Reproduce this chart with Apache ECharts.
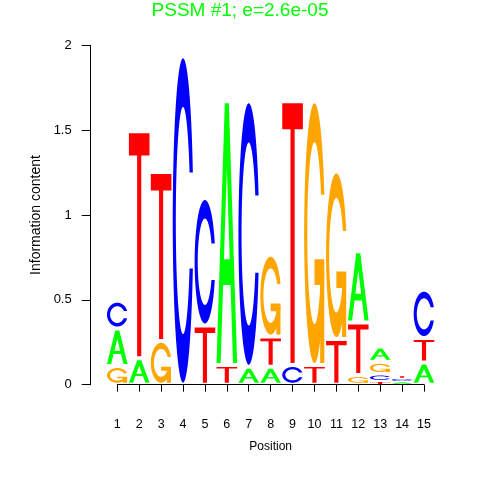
<!DOCTYPE html>
<html>
<head>
<meta charset="utf-8">
<script src="https://cdn.jsdelivr.net/npm/echarts@6/dist/echarts.min.js"></script>
<style>html,body{margin:0;padding:0;background:#fff;}#chart{width:480px;height:480px;}</style>
</head>
<body>
<div id="chart"></div>
<script>
// ---- data ----
const positions = [1,2,3,4,5,6,7,8,9,10,11,12,13,14,15];
const letters = ['A','C','G','T'];
const heightA = [0.221, 0.156, 0, 0, 0, 1.554, 0.106, 0.106, 0, 0, 0, 0.420, 0.090, 0.018, 0.131];
const heightC = [0.164, 0, 0, 1.935, 0.751, 0, 1.564, 0, 0.116, 0, 0, 0, 0.044, 0.020, 0.285];
const heightG = [0.110, 0, 0.258, 0, 0, 0, 0, 0.482, 0, 1.554, 0.988, 0.057, 0.072, 0, 0];
const heightT = [0, 1.338, 0.996, 0, 0.349, 0.116, 0, 0.178, 1.554, 0.116, 0.269, 0.309, 0.019, 0.015, 0.144];
// stacking order (bottom -> top) per position
const stackOrder = ['GAC','AT','GT','C','TC','TA','AC','ATG','CT','TG','TG','GTA','TCGA','ACT','ATC'];
const yTicks = [0, 0.5, 1, 1.5, 2];
const titleText = 'PSSM #1; e=2.6e-05';

const letterColors = {A:'#00FF00', C:'#0000FF', G:'#FFA500', T:'#FF0000'};
const heightsByLetter = {A:heightA, C:heightC, G:heightG, T:heightT};

// ---- letter glyph shapes in unit square (y up) ----
function linspace(a,b,n){const r=[];for(let i=0;i<n;i++)r.push(a+(b-a)*i/(n-1));return r;}
function buildC(){
  const a1 = linspace(0.3+Math.PI/2, Math.PI, 100);
  const a2 = linspace(Math.PI, 1.5*Math.PI, 100);
  const xl1=a1.map(a=>0.5+0.5*Math.sin(a)), yl1=a1.map(a=>0.5+0.5*Math.cos(a));
  const xl2=a2.map(a=>0.5+0.5*Math.sin(a)), yl2=a2.map(a=>0.5+0.5*Math.cos(a));
  const xl=xl1.concat(xl2), yl=yl1.concat(yl2);
  const x=xl.concat(xl.slice().reverse());
  const y=yl.concat(yl.slice().reverse().map(v=>1-v));
  const maxY=Math.max(...yl1);
  let xi1=a1.map(a=>0.5+0.35*Math.sin(a)), yi1=a1.map(a=>0.5+0.35*Math.cos(a));
  const keep=yi1.map(v=>v<=maxY);
  xi1=xi1.filter((v,i)=>keep[i]); yi1=yi1.filter((v,i)=>keep[i]);
  yi1[0]=maxY;
  const xi2=a2.map(a=>0.5+0.35*Math.sin(a)), yi2=a2.map(a=>0.5+0.35*Math.cos(a));
  const xi=xi1.concat(xi2), yi=yi1.concat(yi2);
  const x1=xi.concat(xi.slice().reverse());
  const y1=yi.concat(yi.slice().reverse().map(v=>1-v));
  const X=x.concat(x1.slice().reverse()), Y=y.concat(y1.slice().reverse());
  return {pts:X.map((v,i)=>[v,Y[i]]), r1:Math.max(...xl1)};
}
const cShape = buildC();
const shapes = {
  A: [{pts:[[0,0],[0.4,1],[0.6,1],[1,0],[0.8,0],[0.68,0.3],[0.32,0.3],[0.2,0]], hole:false},
      {pts:[[0.36,0.4],[0.5,0.75],[0.64,0.4]], hole:true}],
  C: [{pts:cShape.pts, hole:false}],
  G: [{pts:cShape.pts, hole:false},
      {pts:(function(){const r1=cShape.r1,h1=0.4;return [[r1,h1],[0.5,h1],[0.5,h1-0.1],[r1-0.2,h1-0.1],[r1-0.2,0],[r1,0]];})(), hole:false}],
  T: [{pts:[[0,1],[1,1],[1,0.9],[0.6,0.9],[0.6,0],[0.4,0],[0.4,0.9],[0,0.9]], hole:false}]
};

// ---- build stacked items ----
const items = [];
positions.forEach((p, i) => {
  let base = 0;
  for (const L of stackOrder[i]) {
    const h = heightsByLetter[L][i];
    if (h > 0) items.push([p, base, h, letters.indexOf(L)]);
    base += h;
  }
});

const letterWidth = 0.94;
function renderItem(params, api) {
  const pos = api.value(0), base = api.value(1), h = api.value(2), L = letters[api.value(3)];
  const p0 = api.coord([pos - letterWidth/2, base]);
  const p1 = api.coord([pos + letterWidth/2, base + h]);
  const x0 = p0[0], x1 = p1[0];
  let yb = p0[1], yt = p1[1];
  const inset = Math.min(2, (yb - yt) * 0.2);
  yb -= inset; yt += inset;
  const children = shapes[L].map(s => ({
    type: 'polygon',
    shape: {points: s.pts.map(q => [x0 + q[0]*(x1-x0), yb - q[1]*(yb-yt)])},
    style: {fill: s.hole ? '#ffffff' : letterColors[L], stroke: null}
  }));
  return {type: 'group', children};
}

const font = 'Liberation Sans, Arial, Helvetica, sans-serif';
const chart = echarts.init(document.getElementById('chart'), null, {renderer:'canvas'});
chart.setOption({
  animation: false,
  backgroundColor: '#ffffff',
  title: {
    text: titleText, left: 'center', top: 1, padding: 0,
    textStyle: {color: '#00FF00', fontSize: 19, fontWeight: 'normal', fontFamily: font}
  },
  grid: {left: 117.3, right: 56, top: 45.3, bottom: 95.3, containLabel: false},
  xAxis: {
    type: 'value', min: 1, max: 15, interval: 1, offset: 18,
    name: 'Position', nameLocation: 'middle', nameGap: 38,
    nameTextStyle: {color: '#000', fontSize: 12, fontFamily: font},
    axisLine: {show: true, lineStyle: {color: '#000', width: 1}},
    axisTick: {show: true, length: 7, lineStyle: {color: '#000'}},
    axisLabel: {color: '#000', fontSize: 12.5, fontFamily: font, margin: 15, showMinLabel: true, showMaxLabel: true},
    splitLine: {show: false}
  },
  yAxis: {
    type: 'value', min: yTicks[0], max: yTicks[yTicks.length-1], interval: 0.5, offset: 26.6,
    name: 'Information content', nameLocation: 'middle', nameGap: 47, nameRotate: 90,
    nameTextStyle: {color: '#000', fontSize: 14, fontFamily: font},
    axisLine: {show: true, lineStyle: {color: '#000', width: 1}},
    axisTick: {show: true, length: 9, lineStyle: {color: '#000'}},
    axisLabel: {color: '#000', fontSize: 13, fontFamily: font, margin: 19, showMinLabel: true, showMaxLabel: true},
    splitLine: {show: false}
  },
  series: [{
    type: 'custom', coordinateSystem: 'cartesian2d', clip: false,
    renderItem: renderItem, data: items, encode: {x: 0, y: 1}
  }]
});
</script>
</body>
</html>
